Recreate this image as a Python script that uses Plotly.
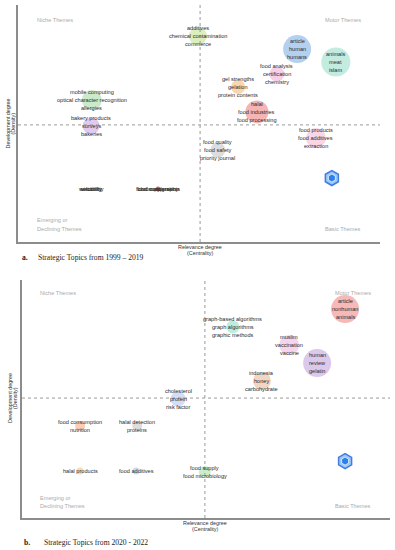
import plotly.graph_objects as go

# ---------------- data ----------------
# Panel a: Strategic Topics 1999-2019
labels_a = [
    ["additives", "chemical contamination", "commerce"],
    ["mobile computing", "optical character recognition", "allergies"],
    ["bakery products", "surveys", "bakeries"],
    ["article", "human", "humans"],
    ["animals", "meat", "islam"],
    ["food analysis", "certification", "chemistry"],
    ["gel strengths", "gelation", "protein contents"],
    ["halal", "food industries", "food processing"],
    ["food products", "food additives", "extraction"],
    ["food quality", "food safety", "priority journal"],
    ["wettability"], ["solubility"], ["viscosity"],
    ["food supplements"], ["chromatography"], ["food composition"],
]
centrality_a = [0.497, 0.204, 0.202, 0.771, 0.878, 0.715, 0.608, 0.660, 0.823, 0.552,
                0.202, 0.202, 0.202, 0.387, 0.387, 0.387]
density_a = [0.869, 0.599, 0.489, 0.814, 0.759, 0.709, 0.654, 0.549, 0.439, 0.388,
             0.224, 0.224, 0.224, 0.224, 0.224, 0.224]
size_a = [18, 20, 17, 28, 29, 15, 14, 23, 20, 15, 0, 0, 0, 5, 0, 0]
colors_a = ["#d8ecb4", "#c4e8c4", "#dfc4ec", "#adcbec", "#bde9db", "#f6cae4", "#f8d2a4",
            "#f5adad", "#f9d2e2", "#d9d9d9", "#ffffff", "#ffffff", "#ffffff", "#e84a4a",
            "#ffffff", "#ffffff"]
mid_a = (0.503, 0.494)
icon_a = (0.867, 0.270)

# Panel b: Strategic Topics 2020-2022
labels_b = [
    ["article", "nonhuman", "animals"],
    ["graph-based algorithms", "graph algorithms", "graphic methods"],
    ["muslim", "vaccination", "vaccine"],
    ["human", "review", "gelatin"],
    ["indonesia", "honey", "carbohydrate"],
    ["cholesterol", "protein", "risk factor"],
    ["food consumption", "nutrition"],
    ["halal detection", "proteins"],
    ["halal products"],
    ["food additives"],
    ["food supply", "food microbiology"],
]
centrality_b = [0.878, 0.573, 0.726, 0.802, 0.652, 0.424, 0.158, 0.313, 0.158, 0.310, 0.497]
density_b = [0.878, 0.803, 0.727, 0.651, 0.576, 0.500, 0.387, 0.387, 0.197, 0.197, 0.193]
size_b = [28, 13, 20, 28, 18, 15, 10, 10, 7, 7, 12]
colors_b = ["#f6b0b0", "#b8ebd8", "#f4d0ec", "#d8c2e8", "#eed3be", "#d0d8f4", "#f9c9ae",
            "#d9d9d9", "#f9d6a6", "#c0d6ef", "#c3ecc3"]
mid_b = (0.497, 0.504)
icon_b = (0.878, 0.239)

captions = ["Strategic Topics from 1999 \u2013 2019", "Strategic Topics from 2020 - 2022"]
caption_letters = ["a.", "b."]

# ---------------- figure ----------------
W, H = 395, 550
FONT = "Liberation Sans, Arial, sans-serif"
fig = go.Figure()

panels = [
    dict(xa="x", ya="y", labels=labels_a, cx=centrality_a, cy=density_a, s=size_a,
         c=colors_a, mid=mid_a, icon=icon_a,
         xdom=[18 / W, 380 / W], ydom=[(H - 242) / H, (H - 5) / H]),
    dict(xa="x2", ya="y2", labels=labels_b, cx=centrality_b, cy=density_b, s=size_b,
         c=colors_b, mid=mid_b, icon=icon_b,
         xdom=[22 / W, 390 / W], ydom=[(H - 518) / H, (H - 280) / H]),
]

annotations = []
shapes = []
for k, p in enumerate(panels):
    fig.add_trace(go.Scatter(
        x=p["cx"], y=p["cy"], mode="markers", xaxis=p["xa"], yaxis=p["ya"],
        marker=dict(size=p["s"], color=p["c"], opacity=0.9, line=dict(width=0)),
        hoverinfo="skip", showlegend=False))
    # icon
    fig.add_trace(go.Scatter(
        x=[p["icon"][0]], y=[p["icon"][1]], mode="markers", xaxis=p["xa"], yaxis=p["ya"],
        marker=dict(symbol="hexagon", size=15, color="#9cc8f8",
                    line=dict(color="#3f7de0", width=1.5)),
        hoverinfo="skip", showlegend=False))
    fig.add_trace(go.Scatter(
        x=[p["icon"][0]], y=[p["icon"][1]], mode="markers", xaxis=p["xa"], yaxis=p["ya"],
        marker=dict(symbol="hexagon", size=8, color="#2f7fe8",
                    line=dict(color="#e8f4ff", width=0.8)),
        hoverinfo="skip", showlegend=False))
    # labels
    for lab, x, y in zip(p["labels"], p["cx"], p["cy"]):
        n = len(lab)
        for i, line in enumerate(lab):
            annotations.append(dict(
                x=x, y=y, xref=p["xa"], yref=p["ya"], text=line, showarrow=False,
                yshift=((n - 1) / 2 - i) * 8, xanchor="center", yanchor="middle",
                font=dict(family=FONT, size=5.6, color="#2b2b2b")))
    # dotted mid lines
    shapes.append(dict(type="line", xref=p["xa"], yref=p["ya"] + " domain",
                       x0=p["mid"][0], x1=p["mid"][0], y0=0, y1=1,
                       line=dict(color="#9a9a9a", width=1, dash="dot")))
    shapes.append(dict(type="line", xref=p["xa"] + " domain", yref=p["ya"],
                       x0=0, x1=1, y0=p["mid"][1], y1=p["mid"][1],
                       line=dict(color="#9a9a9a", width=1, dash="dot")))
    # quadrant labels
    xd = p["xa"] + " domain"
    yd = p["ya"] + " domain"
    qf = dict(family=FONT, size=5.6, color="#ababab")
    ytop = 0.937 if k == 0 else 0.945
    ybot = 0.055 if k == 0 else 0.050
    xl = 0.047 if k == 0 else 0.043
    xr = 0.898 if k == 0 else 0.899
    annotations += [
        dict(x=xl, y=ytop, xref=xd, yref=yd, text="Niche Themes", showarrow=False,
             xanchor="left", yanchor="middle", font=qf),
        dict(x=xr, y=ytop, xref=xd, yref=yd, text="Motor Themes", showarrow=False,
             xanchor="center", yanchor="middle", font=qf),
        dict(x=xl, y=ybot, xref=xd, yref=yd, text="Emerging or", showarrow=False,
             xanchor="left", yanchor="middle", yshift=8.5, font=qf),
        dict(x=xl, y=ybot, xref=xd, yref=yd, text="Declining Themes", showarrow=False,
             xanchor="left", yanchor="middle", font=qf),
        dict(x=xr, y=ybot, xref=xd, yref=yd, text="Basic Themes", showarrow=False,
             xanchor="center", yanchor="middle", font=qf),
    ]
    # axis titles
    af = dict(family=FONT, size=5.4, color="#333333")
    xmid_px = 200 if k == 0 else 205
    xt_y = 247 if k == 0 else 523
    for j, t in enumerate(["Relevance degree", "(Centrality)"]):
        annotations.append(dict(x=xmid_px / W, y=(H - (xt_y + j * 6)) / H, xref="paper",
                                yref="paper", text=t, showarrow=False, xanchor="center",
                                yanchor="middle", font=af))
    yt_x = 7.5 if k == 0 else 10
    yt_y = 124 if k == 0 else 398
    for j, t in enumerate(["Development degree", "(Density)"]):
        annotations.append(dict(x=(yt_x + j * 5) / W, y=(H - yt_y) / H, xref="paper",
                                yref="paper", text=t, showarrow=False, textangle=-90,
                                xanchor="center", yanchor="middle", font=af))
    # captions
    cy_px = 257 if k == 0 else 542
    lx = 20 if k == 0 else 22
    tx = 36 if k == 0 else 42
    cf = dict(family="Liberation Serif, Times New Roman, serif", size=7.6, color="#222222")
    annotations.append(dict(x=lx / W, y=(H - cy_px) / H, xref="paper", yref="paper",
                            text="<b>" + caption_letters[k] + "</b>", showarrow=False,
                            xanchor="left", yanchor="middle", font=cf))
    annotations.append(dict(x=tx / W, y=(H - cy_px) / H, xref="paper", yref="paper",
                            text=captions[k], showarrow=False, xanchor="left",
                            yanchor="middle", font=cf))

axis_style = dict(range=[0, 1], showline=True, linecolor="#8c8c8c", linewidth=1.5,
                  showgrid=False, zeroline=False, showticklabels=False, ticks="",
                  fixedrange=True)

fig.update_layout(
    width=W, height=H, margin=dict(l=0, r=0, t=0, b=0),
    paper_bgcolor="white", plot_bgcolor="white", showlegend=False,
    xaxis=dict(domain=panels[0]["xdom"], anchor="y", **axis_style),
    yaxis=dict(domain=panels[0]["ydom"], anchor="x", **axis_style),
    xaxis2=dict(domain=panels[1]["xdom"], anchor="y2", **axis_style),
    yaxis2=dict(domain=panels[1]["ydom"], anchor="x2", **axis_style),
    annotations=annotations, shapes=shapes,
)

fig.write_html("out.html", config={"displayModeBar": False},
               post_script="document.body.style.margin='0';document.body.style.overflow='hidden';")
